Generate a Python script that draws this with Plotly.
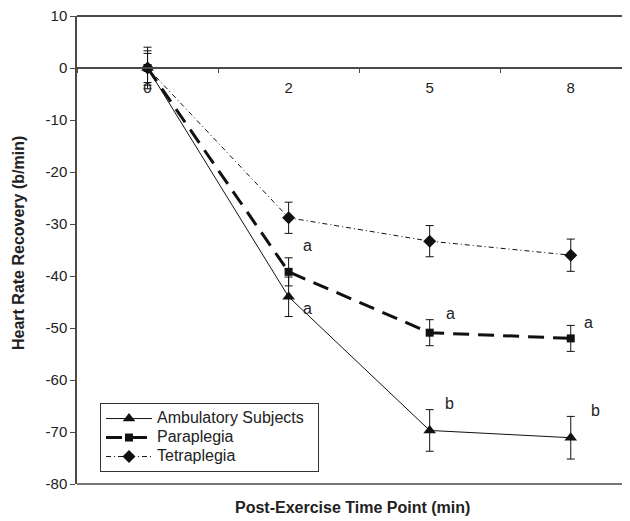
import plotly.graph_objects as go

time_points = ["0", "2", "5", "8"]

ambulatory = [0, -44.0, -69.7, -71.1]
ambulatory_err = [4.0, 3.8, 4.0, 4.1]

paraplegia = [0, -39.2, -50.9, -52.0]
paraplegia_err = [3.3, 2.7, 2.5, 2.5]

tetraplegia = [0, -28.8, -33.3, -36.0]
tetraplegia_err = [2.8, 3.0, 3.0, 3.1]

series_names = ["Ambulatory Subjects", "Paraplegia", "Tetraplegia"]

ann_x = ["2", "2", "5", "8", "5", "8"]
ann_y = [-34.2, -46.3, -47.3, -49.0, -64.6, -65.8]
ann_text = ["a", "a", "a", "a", "b", "b"]
ann_shift = [19, 19, 21, 18, 20, 25]

y_ticks = [10, 0, -10, -20, -30, -40, -50, -60, -70, -80]
y_tick_text = [str(v) for v in y_ticks]

FONT = "Arial, 'Liberation Sans', sans-serif"
AXC = "#4a4a4a"
TXT = "#222222"


def legend_label(s):
    return '<span style="font-size:16px">' + s + "&nbsp;&nbsp;</span>"


fig = go.Figure()

fig.add_trace(go.Scatter(
    x=time_points, y=ambulatory, name=legend_label(series_names[0]), mode="lines+markers",
    line=dict(color="#111111", width=1),
    marker=dict(symbol="triangle-up", size=11, color="#111111"),
    error_y=dict(type="data", array=ambulatory_err, color="#111111", thickness=1, width=4),
))
fig.add_trace(go.Scatter(
    x=time_points, y=paraplegia, name=legend_label(series_names[1]), mode="lines+markers",
    line=dict(color="#111111", width=3, dash="16px,9px"),
    marker=dict(symbol="square", size=8, color="#111111"),
    error_y=dict(type="data", array=paraplegia_err, color="#111111", thickness=1, width=4),
))
fig.add_trace(go.Scatter(
    x=time_points, y=tetraplegia, name=legend_label(series_names[2]), mode="lines+markers",
    line=dict(color="#111111", width=1, dash="5px,3px,1px,3px"),
    marker=dict(symbol="diamond", size=10, color="#111111"),
    error_y=dict(type="data", array=tetraplegia_err, color="#111111", thickness=1, width=4),
))

for xv, yv, t, s in zip(ann_x, ann_y, ann_text, ann_shift):
    fig.add_annotation(x=time_points.index(xv), y=yv, text=t, showarrow=False, xshift=s,
                       font=dict(family=FONT, size=16, color=TXT))

ymin, ymax = min(y_ticks), max(y_ticks)
zero_pos = (0 - ymin) / (ymax - ymin)

# page body has an 8px offset, so figure is 8px smaller and margins reduced
fig.update_layout(
    width=622, height=513,
    margin=dict(l=69, r=0, t=8, b=37),
    paper_bgcolor="white", plot_bgcolor="white",
    font=dict(family=FONT, size=15, color=TXT),
    showlegend=True,
    legend=dict(x=0.0416, y=0.173, xanchor="left", yanchor="top",
                bgcolor="white", bordercolor="#333333", borderwidth=1,
                font=dict(family=FONT, size=11, color=TXT),
                itemwidth=46, tracegroupgap=0),
    xaxis=dict(type="category", categoryorder="array", categoryarray=time_points,
               range=[-0.5, 3.42], anchor="free", position=zero_pos,
               showline=True, linecolor=AXC, linewidth=1.5,
               ticks="outside", tickson="boundaries", ticklen=4, tickcolor=AXC,
               ticklabelstandoff=6, ticklabeloverflow="allow",
               showgrid=False, zeroline=False,
               tickfont=dict(family=FONT, size=15, color=TXT)),
    yaxis=dict(range=[ymin, ymax], tickvals=y_ticks, ticktext=y_tick_text,
               showline=True, linecolor=AXC, ticklabeloverflow="allow",
               linewidth=1.5, ticks="outside", ticklen=5, tickcolor=AXC,
               showgrid=False, zeroline=False,
               tickfont=dict(family=FONT, size=15, color=TXT)),
    shapes=[
        dict(type="line", xref="paper", yref="paper", x0=0, x1=1.05, y0=1, y1=1,
             layer="above", line=dict(color=AXC, width=2)),
        dict(type="line", xref="paper", yref="paper", x0=0, x1=1.05, y0=0, y1=0,
             layer="above", line=dict(color=AXC, width=1.5)),
    ],
)

fig.add_annotation(xref="paper", yref="paper", x=0.499, y=-0.051, yanchor="middle",
                   text="<b>Post-Exercise Time Point (min)</b>", showarrow=False,
                   font=dict(family=FONT, size=16, color=TXT))
fig.add_annotation(xref="paper", yref="paper", x=-0.1048, y=0.515, xanchor="center",
                   textangle=-90, text="<b>Heart Rate Recovery (b/min)</b>", showarrow=False,
                   font=dict(family=FONT, size=16, color=TXT))

fig.write_html("out.html")
